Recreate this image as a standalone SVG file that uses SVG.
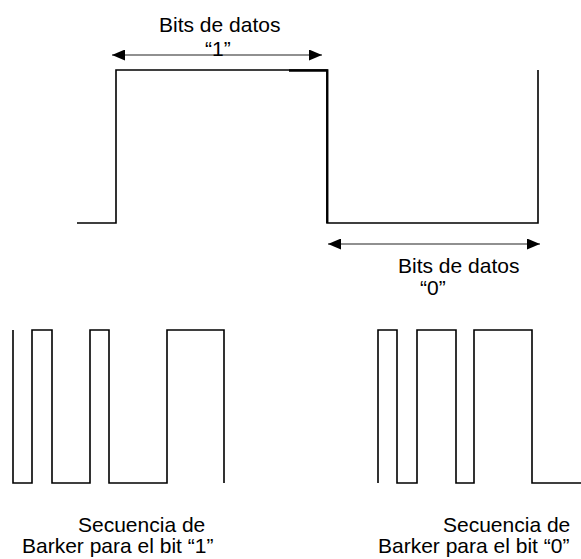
<svg xmlns="http://www.w3.org/2000/svg" width="581" height="559" viewBox="0 0 581 559">
<style>
.w{fill:none;stroke:#000;stroke-width:1.6;stroke-linejoin:miter}
.a{fill:none;stroke:#222;stroke-width:1.2}
.t{font-family:"Liberation Sans",Arial,sans-serif;font-size:21px;fill:#000}
</style>
<defs>
<marker id="ah" viewBox="0 0 13 11" refX="13" refY="5.5" markerWidth="13" markerHeight="11" markerUnits="userSpaceOnUse" orient="auto-start-reverse">
<path d="M0,0 L13,5.5 L0,11 Z" fill="#000"/>
</marker>
</defs>
<rect width="581" height="559" fill="#fff"/>
<g id="data-signal">
<path class="w" d="M77,223 H116 V70 H327 V223 H538 V70"/>
<path d="M289,70.5 H327.3 V223" fill="none" stroke="#000" stroke-width="2.3"/>
</g>
<g id="connectors">
<line class="a" x1="112" y1="55" x2="322" y2="55" marker-start="url(#ah)" marker-end="url(#ah)"/>
<line class="a" x1="328" y1="244" x2="540" y2="244" marker-start="url(#ah)" marker-end="url(#ah)"/>
</g>
<g id="label-bit1">
<text class="t" x="159" y="32">Bits de datos</text>
<text class="t" x="205" y="56">“1”</text>
</g>
<g id="label-bit0">
<text class="t" x="398" y="273">Bits de datos</text>
<text class="t" x="420" y="295">“0”</text>
</g>
<g id="barker1">
<path class="w" d="M13,330 V483 H32 V330 H52 V483 H90 V330 H109 V483 H167 V330 H224 V483"/>
<text class="t" x="78" y="532">Secuencia de</text>
<text class="t" x="22" y="553">Barker para el bit “1”</text>
</g>
<g id="barker0">
<path class="w" d="M378,483 V330 H397 V483 H417 V330 H456 V483 H474 V330 H532 V483 H590"/>
<text class="t" x="443" y="532">Secuencia de</text>
<text class="t" x="378" y="553">Barker para el bit “0”</text>
</g>
</svg>
